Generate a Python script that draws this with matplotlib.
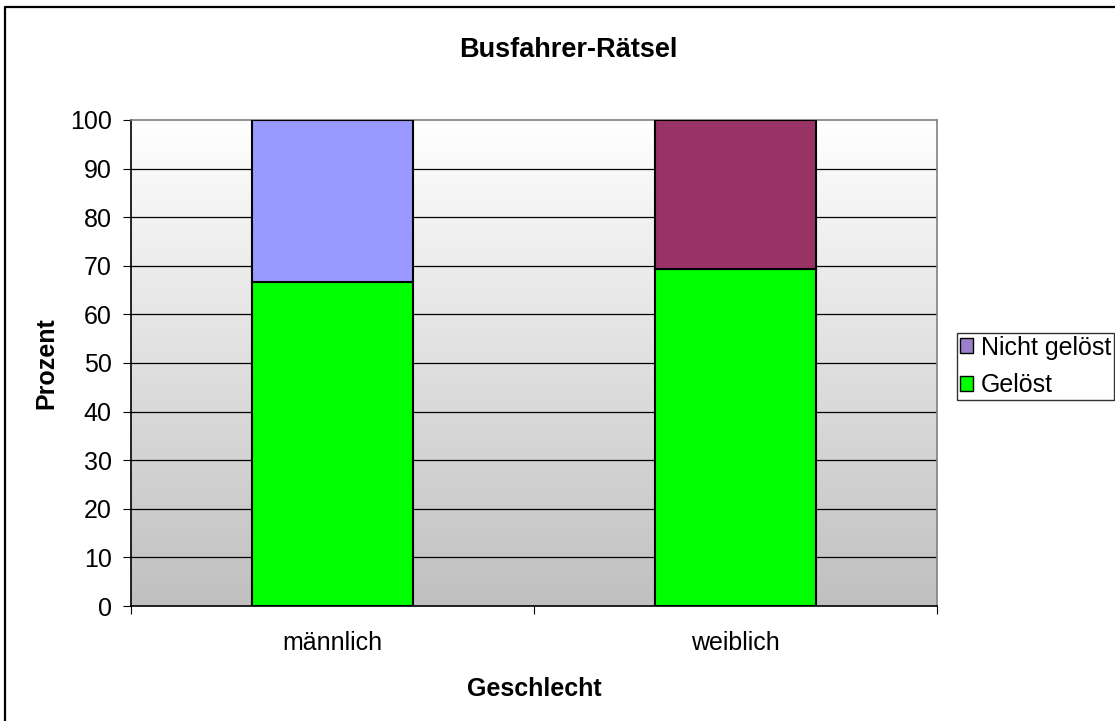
import numpy as np
import matplotlib
matplotlib.use("Agg")
import matplotlib.pyplot as plt
import matplotlib.transforms as mtransforms
from matplotlib.lines import Line2D
from matplotlib.patches import Patch
from matplotlib.colors import LinearSegmentedColormap

categories = ["männlich", "weiblich"]
geloest = [66.7, 69.4]
nicht_geloest = [33.3, 30.6]
yticks = list(range(0, 101, 10))

plt.rcParams['font.family'] = ['Liberation Sans', 'DejaVu Sans']

W, H = 1115, 721
fig = plt.figure(figsize=(W/100, H/100), dpi=100)

def fx(px):
    return px / W

def fy(py):
    return 1 - py / H

# outer chart border (only top and left visible)
fig.add_artist(Line2D([fx(5), fx(5), 1.0], [0.0, fy(7), fy(7)], transform=fig.transFigure,
                      color='black', linewidth=1.6))

ax = fig.add_axes([fx(131), fy(606), (937-131)/W, (606-120)/H])

# gradient background: white at top, gray at bottom
grad = np.linspace(0, 1, 256).reshape(-1, 1)
cmap = LinearSegmentedColormap.from_list('g', ['#c0c0c0', '#ffffff'])
ax.imshow(grad, extent=[0, 1, 0, 1], transform=ax.transAxes, cmap=cmap,
          aspect='auto', zorder=0, origin='lower')

x = np.arange(len(categories))
w = 0.4
ax.bar(x, geloest, width=w, color='#00ff00', edgecolor='black', linewidth=1.5, zorder=3)
ax.bar(x, nicht_geloest, width=w, bottom=geloest, color=['#9999ff', '#993366'],
       edgecolor='black', linewidth=1.5, zorder=3)

ax.set_xlim(-0.5, 1.5)
ax.set_ylim(0, 100)
ax.set_yticks(yticks)
ax.set_yticklabels([str(t) for t in yticks], fontsize=18)
for t in yticks[1:-1]:
    ax.axhline(t, color='black', linewidth=0.9, zorder=1)
ax.set_xticks([-0.5, 0.5, 1.5])
ax.set_xticklabels(['', '', ''])
ax.tick_params(axis='x', length=6, direction='out', color='black')
ax.tick_params(axis='y', length=6, direction='out', pad=8, color='black')

for s in ['left', 'bottom']:
    ax.spines[s].set_color('black')
    ax.spines[s].set_linewidth(1.2)
for s in ['top', 'right']:
    ax.spines[s].set_color('#808080')
    ax.spines[s].set_linewidth(1.2)

# category labels
blend = mtransforms.blended_transform_factory(ax.transData, fig.transFigure)
for i, c in enumerate(categories):
    ax.text(i, fy(650), c, transform=blend, ha='center', va='baseline', fontsize=18)

fig.text(fx(534), fy(696), 'Geschlecht', ha='center', va='baseline',
         fontsize=18, fontweight='bold')
fig.text(fx(46), fy(363), 'Prozent', ha='center', va='center', rotation=90,
         fontsize=18, fontweight='bold')
fig.text(fx(568), fy(57), 'Busfahrer-Rätsel', ha='center', va='baseline',
         fontsize=19.5, fontweight='bold')

handles = [Patch(facecolor='#9a80cc', edgecolor='black', label='Nicht gelöst'),
           Patch(facecolor='#00ff00', edgecolor='black', label='Gelöst')]
leg = fig.legend(handles=handles, loc='upper left', bbox_to_anchor=(fx(957), fy(333)),
                 fontsize=18, frameon=True, fancybox=False, edgecolor='black',
                 handlelength=0.55, handleheight=0.55, handletextpad=0.3, borderpad=0.1,
                 labelspacing=0.55, borderaxespad=0)
leg.get_frame().set_linewidth(1.0)

fig.savefig('out.png', dpi=100)
